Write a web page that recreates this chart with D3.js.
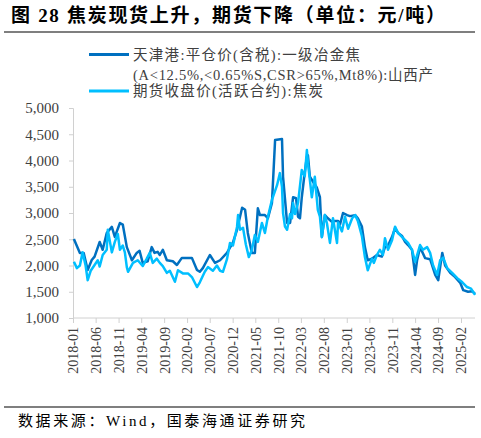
<!DOCTYPE html>
<html><head><meta charset="utf-8">
<script src="https://cdn.jsdelivr.net/npm/d3@7/dist/d3.min.js"></script>
<style>
body{margin:0;background:#fff;}
svg{display:block;}
</style></head>
<body>
<svg id="chart" width="481" height="438"></svg>
<script>
const titleText = "图 28  焦炭现货上升，期货下降（单位：元/吨）";
const sourceText = "数据来源：Wind，国泰海通证券研究";
const seriesNames = ["天津港:平仓价(含税):一级冶金焦", "(A<12.5%,<0.65%S,CSR>65%,Mt8%):山西产", "期货收盘价(活跃合约):焦炭"];
const yTicks = [1000,1500,2000,2500,3000,3500,4000,4500,5000];
const xTickLabels = ["2018-01","2018-06","2018-11","2019-04","2019-09","2020-02","2020-07","2020-12","2021-05","2021-10","2022-03","2022-08","2023-01","2023-06","2023-11","2024-04","2024-09","2025-02"];

const spotDates = ["2018-01-07","2018-02-16","2018-03-13","2018-04-09","2018-05-06","2018-05-25","2018-06-28","2018-07-18","2018-08-14","2018-09-17","2018-10-07","2018-11-10","2018-11-29","2018-12-26","2019-01-29","2019-03-02","2019-03-21","2019-04-11","2019-05-14","2019-06-10","2019-06-29","2019-07-20","2019-08-03","2019-08-23","2019-09-19","2019-10-29","2019-11-25","2019-12-28","2020-03-04","2020-04-07","2020-04-26","2020-05-16","2020-07-02","2020-08-05","2020-09-08","2020-10-24","2020-12-03","2020-12-30","2021-02-02","2021-02-22","2021-03-12","2021-04-08","2021-04-28","2021-05-18","2021-06-01","2021-07-04","2021-07-24","2021-08-20","2021-09-10","2021-10-26","2021-11-02","2021-11-29","2021-12-19","2022-01-08","2022-01-28","2022-02-10","2022-02-23","2022-03-07","2022-03-27","2022-04-10","2022-04-17","2022-04-30","2022-05-20","2022-06-16","2022-07-06","2022-07-19","2022-08-08","2022-08-28","2022-09-24","2022-10-14","2022-11-04","2022-11-17","2022-12-07","2023-01-03","2023-01-23","2023-02-26","2023-03-16","2023-04-12","2023-05-02","2023-05-21","2023-06-18","2023-07-21","2023-08-23","2023-09-13","2023-10-03","2023-10-30","2023-11-19","2023-12-09","2024-01-05","2024-01-25","2024-02-14","2024-03-11","2024-04-01","2024-04-14","2024-05-04","2024-06-07","2024-07-10","2024-08-13","2024-09-02","2024-09-29","2024-10-18","2024-11-21","2024-12-24","2025-01-27","2025-02-16","2025-03-20","2025-04-16","2025-05-06"];
const spotValues = [2505,2240,2240,1914,2105,2170,2448,2300,2620,2735,2545,2810,2780,2350,2100,2240,2280,2050,2080,2350,2240,2260,2200,2300,2100,2080,2010,2145,2145,1915,1880,1950,2200,2050,2100,2240,2440,2680,3100,3060,2620,2240,2240,3090,2960,2960,2900,3190,4390,4410,3690,2810,2810,3300,3280,2930,2900,3300,3780,4070,4100,3690,3600,3480,3300,2545,2960,2900,2830,2850,2850,2780,3000,2960,2940,2960,2900,2740,2350,2100,2130,2200,2170,2350,2380,2545,2710,2620,2560,2450,2390,2300,1820,2100,2350,2140,2120,1820,1720,2240,2000,1860,1780,1670,1530,1500,1510,1460];

const futDates = ["2018-01-07","2018-01-27","2018-02-16","2018-03-06","2018-03-26","2018-04-09","2018-04-29","2018-05-25","2018-06-15","2018-06-28","2018-07-18","2018-08-14","2018-08-21","2018-09-17","2018-10-07","2018-10-27","2018-11-10","2018-11-29","2018-12-13","2018-12-26","2019-01-03","2019-02-05","2019-03-09","2019-04-11","2019-05-08","2019-05-28","2019-06-17","2019-07-14","2019-08-03","2019-08-23","2019-09-19","2019-10-09","2019-11-12","2019-12-02","2020-01-04","2020-02-07","2020-03-04","2020-04-07","2020-04-26","2020-05-29","2020-06-19","2020-07-22","2020-08-18","2020-09-08","2020-09-27","2020-10-24","2020-11-13","2020-12-03","2020-12-30","2021-01-06","2021-01-19","2021-02-08","2021-02-27","2021-03-19","2021-04-08","2021-04-28","2021-05-18","2021-06-14","2021-07-04","2021-07-24","2021-08-20","2021-09-23","2021-10-12","2021-10-26","2021-11-02","2021-11-15","2021-11-29","2021-12-19","2022-01-01","2022-01-08","2022-01-21","2022-02-10","2022-03-07","2022-03-27","2022-04-10","2022-04-17","2022-04-30","2022-05-13","2022-06-02","2022-06-22","2022-07-06","2022-07-19","2022-08-08","2022-08-22","2022-09-11","2022-10-01","2022-10-28","2022-11-04","2022-11-30","2022-12-20","2023-01-10","2023-02-06","2023-02-26","2023-03-16","2023-04-12","2023-05-02","2023-05-21","2023-06-18","2023-07-01","2023-07-21","2023-08-10","2023-08-30","2023-09-13","2023-10-03","2023-10-30","2023-11-19","2023-12-09","2024-01-12","2024-02-14","2024-03-11","2024-04-01","2024-05-04","2024-05-23","2024-06-20","2024-07-10","2024-07-30","2024-08-26","2024-09-15","2024-10-05","2024-11-01","2024-12-04","2025-01-07","2025-02-10","2025-03-13","2025-04-09","2025-05-06"];
const futValues = [2070,1950,2000,2250,2000,1720,1900,2010,2100,1980,2200,2300,2680,2250,2450,2600,2300,2380,2250,1970,1880,2050,2100,1990,2130,2240,2050,2130,2050,1990,1860,1900,1690,1910,1850,1850,1780,1590,1680,1880,1970,1900,2000,1900,1880,2120,2430,2380,2735,2960,2680,2720,2400,2160,2300,2580,2450,2810,2620,2930,3250,3530,3760,3500,3000,2740,2680,2980,2900,3190,2980,3190,3820,3700,4200,3950,3630,3300,3690,3060,2930,2540,2960,2800,2430,2900,2430,2820,2650,2930,2700,2900,2960,2850,2560,2160,1910,2130,2050,2200,2300,2200,2520,2300,2480,2740,2620,2520,2430,2300,2070,2390,2300,2350,2240,2000,1820,2100,2150,1950,1860,1760,1680,1590,1560,1440];

const svg = d3.select("#chart");
const parse = d3.timeParse("%Y-%m-%d");
const parseM = d3.timeParse("%Y-%m");
const tickDates = xTickLabels.map(parseM);

const x = d3.scaleTime().domain([tickDates[0], tickDates[tickDates.length-1]]).range([73, 461]);
const y = d3.scaleLinear().domain([1000, 5000]).range([318, 108]);

const serif = "'Liberation Serif','Times New Roman','Noto Sans CJK SC',serif";
const cjk = "'Liberation Serif','Noto Sans CJK SC',sans-serif";

// title
svg.append("text").attr("x", 11).attr("y", 22)
  .attr("font-family", "'Liberation Serif','Noto Sans CJK SC',sans-serif").attr("font-weight", "bold")
  .attr("font-size", 19).attr("fill", "#000")
  .attr("textLength", 434).attr("lengthAdjust", "spacing").text(titleText);
svg.append("line").attr("x1", 4).attr("x2", 475).attr("y1", 32).attr("y2", 32)
  .attr("stroke", "#555").attr("stroke-width", 1.3);

// legend
const colors = ["#0070C0", "#00BFFF"];
svg.append("line").attr("x1", 89).attr("x2", 129).attr("y1", 54.5).attr("y2", 54.5).attr("stroke", colors[0]).attr("stroke-width", 3);
svg.append("line").attr("x1", 89).attr("x2", 129).attr("y1", 91).attr("y2", 91).attr("stroke", colors[1]).attr("stroke-width", 3);
const legText = [[seriesNames[0], 60, 227], [seriesNames[1], 80, 300], [seriesNames[2], 96, 190]];
legText.forEach(([t, yy, w]) => {
  svg.append("text").attr("x", 133).attr("y", yy).attr("font-family", cjk)
    .attr("font-size", 14.5).attr("fill", "#404040")
    .attr("textLength", w).attr("lengthAdjust", "spacing").text(t);
});

// axes
const yAxis = d3.axisLeft(y).tickValues(yTicks).tickSize(4).tickFormat(d3.format(","));
const gy = svg.append("g").attr("transform", "translate(73,0)").call(yAxis);
gy.select(".domain").attr("stroke", "#d0d0d0");
gy.selectAll(".tick line").attr("stroke", "#d0d0d0");
gy.selectAll(".tick text").attr("font-family", serif).attr("font-size", 15).attr("fill", "#404040").attr("x", -14);

const xAxis = d3.axisBottom(x).tickValues(tickDates).tickSize(5).tickFormat(d3.timeFormat("%Y-%m"));
const gx = svg.append("g").attr("transform", "translate(0,318)").call(xAxis);
gx.select(".domain").remove();
gx.append("line").attr("x1", 73).attr("x2", 475).attr("stroke", "#d0d0d0");
gx.selectAll(".tick line").attr("stroke", "#d0d0d0");
gx.selectAll(".tick text").attr("font-family", serif).attr("font-size", 14).attr("fill", "#404040")
  .attr("transform", "rotate(-90)").attr("text-anchor", "end").attr("x", -9).attr("y", 0).attr("dy", "0.35em");

// lines
const line = d3.line().x(d => x(d[0])).y(d => y(d[1]));
const spot = spotDates.map((d, i) => [parse(d), spotValues[i]]);
const fut = futDates.map((d, i) => [parse(d), futValues[i]]);
svg.append("path").datum(spot).attr("d", line).attr("fill", "none").attr("stroke", colors[0]).attr("stroke-width", 2.5).attr("stroke-linejoin", "round");
svg.append("path").datum(fut).attr("d", line).attr("fill", "none").attr("stroke", colors[1]).attr("stroke-width", 2.5).attr("stroke-linejoin", "round");

// footer
svg.append("line").attr("x1", 4).attr("x2", 475).attr("y1", 407).attr("y2", 407)
  .attr("stroke", "#555").attr("stroke-width", 1.3);
svg.append("text").attr("x", 18).attr("y", 426).attr("font-family", cjk)
  .attr("font-size", 15).attr("fill", "#000")
  .attr("textLength", 287).attr("lengthAdjust", "spacing").text(sourceText);
</script>
</body></html>
